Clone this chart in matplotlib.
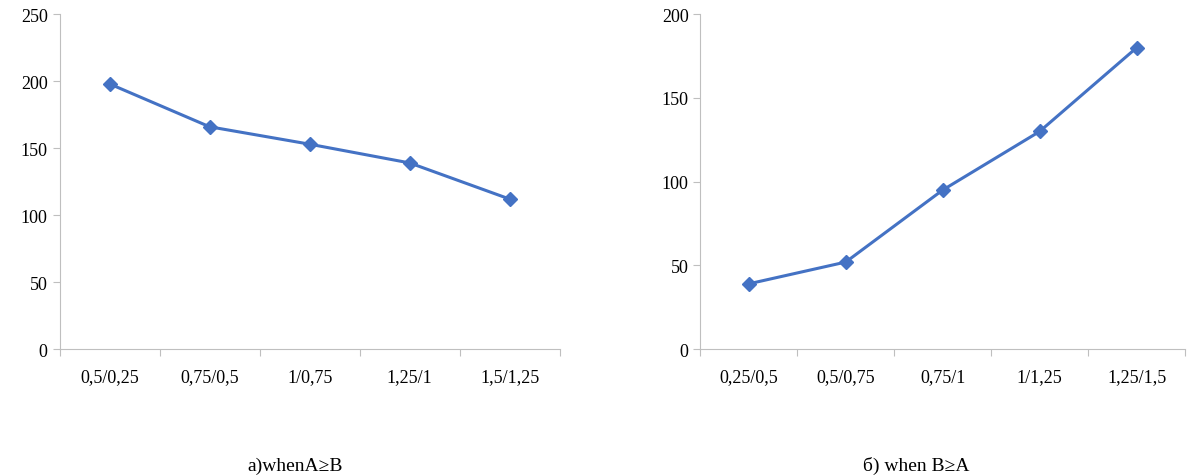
import matplotlib
matplotlib.use("Agg")
import matplotlib.pyplot as plt
import numpy as np

plt.rcParams['font.family'] = ['Liberation Serif', 'DejaVu Serif']

left_cats = ["0,5/0,25", "0,75/0,5", "1/0,75", "1,25/1", "1,5/1,25"]
left_vals = [198, 166, 153, 139, 112]
right_cats = ["0,25/0,5", "0,5/0,75", "0,75/1", "1/1,25", "1,25/1,5"]
right_vals = [39, 52, 95, 130, 180]

color = "#4472C4"
fig = plt.figure(figsize=(11.91, 4.77), dpi=100)

def draw(ax, cats, vals, ymax, step):
    x = np.arange(len(cats))
    ax.plot(x, vals, color=color, lw=2.2, marker="D", ms=7)
    ax.set_xlim(-0.5, len(cats) - 0.5)
    ax.set_ylim(0, ymax)
    ax.set_yticks(np.arange(0, ymax + 1, step))
    ax.set_xticks(np.arange(-0.5, len(cats), 1.0))
    ax.set_xticklabels([])
    ax.set_xticks(x, minor=True)
    ax.set_xticklabels(cats, minor=True)
    ax.tick_params(axis="x", which="minor", length=0, pad=14, labelsize=13)
    ax.tick_params(axis="x", which="major", length=5, color="#BFBFBF")
    ax.tick_params(axis="y", length=5, color="#BFBFBF", labelsize=13)
    for s in ["top", "right"]:
        ax.spines[s].set_visible(False)
    for s in ["left", "bottom"]:
        ax.spines[s].set_color("#BFBFBF")

ax1 = fig.add_axes([0.050, 0.266, 0.420, 0.702])
draw(ax1, left_cats, left_vals, 250, 50)
ax2 = fig.add_axes([0.588, 0.266, 0.407, 0.702])
draw(ax2, right_cats, right_vals, 200, 50)

fig.text(0.248, 0.012, "а)whenA≥B", ha="center", fontsize=14)
fig.text(0.769, 0.012, "б) when B≥A", ha="center", fontsize=14)

fig.savefig("out.png", dpi=100)
